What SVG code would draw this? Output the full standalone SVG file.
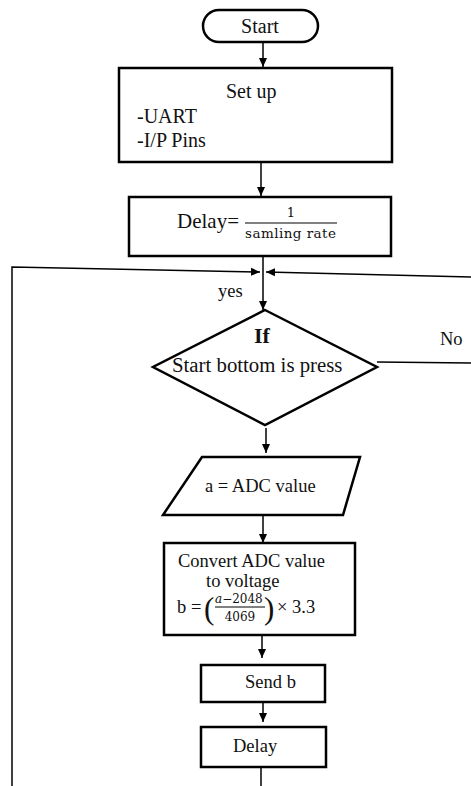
<svg xmlns="http://www.w3.org/2000/svg" width="471" height="786" viewBox="0 0 471 786">
<defs>
<style>
.box{fill:#fff;stroke:#000;stroke-width:2.5}
.ln{fill:none;stroke:#000;stroke-width:1.5}
</style>
<marker id="ah" markerWidth="10" markerHeight="10" refX="9" refY="5" orient="auto" markerUnits="userSpaceOnUse">
<path d="M0,1 L9,5 L0,9 Z" fill="#000"/>
</marker>
</defs>
<rect width="471" height="786" fill="#fff"/>
<g font-family="Liberation Serif, serif" fill="#111">
<g id="connectors">
<line class="ln" x1="263" y1="43" x2="263" y2="67" marker-end="url(#ah)"/>
<line class="ln" x1="261" y1="162" x2="261" y2="196" marker-end="url(#ah)"/>
<line class="ln" x1="263" y1="256" x2="263" y2="310" marker-end="url(#ah)"/>
<polyline class="ln" points="12,786 12,267 260,272" marker-end="url(#ah)"/>
<line class="ln" x1="471" y1="277" x2="266" y2="272" marker-end="url(#ah)"/>
<line class="ln" x1="377" y1="362" x2="471" y2="363"/>
<line class="ln" x1="266" y1="428" x2="266" y2="453" marker-end="url(#ah)"/>
<line class="ln" x1="263" y1="515" x2="263" y2="543" marker-end="url(#ah)"/>
<line class="ln" x1="262" y1="635" x2="262" y2="658" marker-end="url(#ah)"/>
<line class="ln" x1="263" y1="702" x2="263" y2="722" marker-end="url(#ah)"/>
<line class="ln" x1="261" y1="767" x2="261" y2="786"/>
<text x="218" y="297" font-size="18.5">yes</text>
<text x="440" y="345" font-size="18.5">No</text>
</g>
<g id="start">
<rect class="box" x="203" y="10" width="115" height="32" rx="16" stroke-width="2"/>
<text x="260" y="33" font-size="20" text-anchor="middle">Start</text>
</g>
<g id="setup">
<rect class="box" x="119" y="68" width="273" height="94"/>
<text x="226" y="98" font-size="20">Set up</text>
<text x="137" y="123" font-size="20">-UART</text>
<text x="137" y="147" font-size="20">-I/P Pins</text>
</g>
<g id="delay1">
<rect class="box" x="129" y="197" width="262" height="59"/>
<text x="177" y="228" font-size="21">Delay=</text>
<line x1="245" y1="223" x2="337" y2="223" stroke="#000" stroke-width="1"/>
<text x="291" y="217" font-size="13" text-anchor="middle" font-family="DejaVu Serif, serif">1</text>
<text x="245" y="238" font-size="13.5" textLength="91" font-family="DejaVu Serif, serif">samling rate</text>
</g>
<g id="decision">
<polygon class="box" points="265,310 377,367 265,425 153,367" stroke-width="2"/>
<text x="262" y="343" font-size="22" font-weight="bold" text-anchor="middle">If</text>
<text x="172" y="372" font-size="20.8">Start bottom is press</text>
</g>
<g id="read">
<polygon class="box" points="202,457 360,457 343,515 163,515" stroke-width="2"/>
<text x="205" y="492" font-size="18.5">a = ADC value</text>
</g>
<g id="convert">
<rect class="box" x="164" y="543" width="191" height="92"/>
<text x="178" y="567" font-size="18.5">Convert ADC value</text>
<text x="206" y="587" font-size="18.5">to voltage</text>
<text x="177" y="613" font-size="18.5">b =</text>
<text x="204" y="619" font-size="31">(</text>
<text x="215" y="603" font-size="12" font-family="DejaVu Serif, serif"><tspan font-style="italic">a</tspan>−2048</text>
<line x1="215" y1="607" x2="265" y2="607" stroke="#000" stroke-width="1"/>
<text x="240" y="621" font-size="12" text-anchor="middle" font-family="DejaVu Serif, serif">4069</text>
<text x="264" y="619" font-size="31">)</text>
<text x="277" y="613" font-size="18.5">× 3.3</text>
</g>
<g id="send">
<rect class="box" x="201" y="665" width="124" height="37"/>
<text x="245" y="688" font-size="18.5">Send b</text>
</g>
<g id="delay2">
<rect class="box" x="201" y="727" width="125" height="40"/>
<text x="233" y="752" font-size="18.5">Delay</text>
</g>
</g>
</svg>
